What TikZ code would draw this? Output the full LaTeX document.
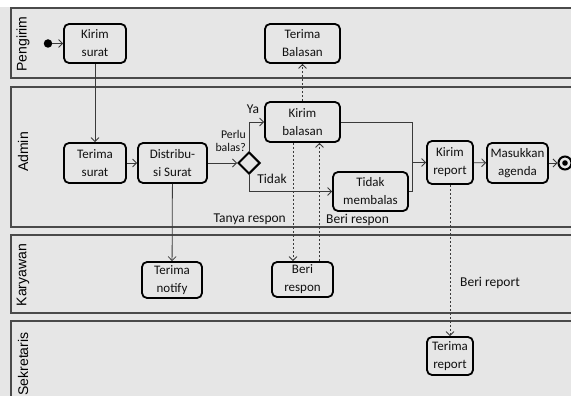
\documentclass[tikz,border=0pt]{standalone}
\usepackage{fontspec}
\setmainfont{Carlito}
\newfontfamily\lanefont{Liberation Sans}
\usetikzlibrary{arrows.meta,shapes.geometric}

\definecolor{paper}{HTML}{E6E6E6}
\definecolor{laneline}{HTML}{4A4A4A}
\definecolor{ink}{HTML}{111111}
\definecolor{flow}{HTML}{3A3A3A}

\tikzset{
  act/.style={draw=black, line width=1.8pt, rounded corners=5pt, fill=paper,
    inner sep=0pt, align=center, text=ink,
    font=\fontsize{13}{18}\selectfont},
  lane/.style={draw=laneline, line width=1.4pt},
  lanelabel/.style={rotate=90, text=black, font=\lanefont\fontsize{14}{14}\selectfont},
  flowline/.style={draw=flow, line width=0.8pt, -{Straight Barb[length=4pt,width=8pt]}},
  msgline/.style={draw=flow, line width=0.8pt, dash pattern=on 2pt off 2pt,
    -{Straight Barb[length=4pt,width=8pt]}},
  tag/.style={text=ink, inner sep=0pt, font=\fontsize{13.5}{15}\selectfont},
  smalltag/.style={text=ink, inner sep=0pt, align=right, font=\fontsize{11.8}{13}\selectfont},
}

\begin{document}
\begin{tikzpicture}[x=1pt, y=-1pt]
  \useasboundingbox (0,0) rectangle (571,396);
  \clip (0,0) rectangle (571,396);

  % page and swimlanes
  \fill[paper] (0,7) rectangle (571,396);
  \draw[lane] (11,8) rectangle (590,78);
  \draw[lane] (11,87) rectangle (590,227);
  \draw[lane] (11,235) rectangle (590,313);
  \draw[lane] (11,321) rectangle (590,420);

  \node[lanelabel] (lp) at (23,44) {Pengirim};
  \node[lanelabel] (la) at (23,152) {Admin};
  \node[lanelabel] (lk) at (23,275) {Karyawan};
  \node[lanelabel] (ls) at (23,364) {Sekretaris};

  % activities
  \node[act, minimum width=62pt, minimum height=39pt] (ks) at (95,43.5) {Kirim\\surat};
  \node[act, minimum width=75pt, minimum height=39pt] (tb) at (302.5,43.5) {Terima\\Balasan};
  \node[act, minimum width=62pt, minimum height=40pt] (ts) at (95,163) {Terima\\surat};
  \node[act, minimum width=69pt, minimum height=40pt] (ds) at (172.5,163) {Distribu-\\si Surat};
  \node[act, minimum width=75pt, minimum height=40pt] (kb) at (302.5,122) {Kirim\\balasan};
  \node[act, minimum width=75pt, minimum height=39pt] (tm) at (370.5,191.5) {Tidak\\membalas};
  \node[act, minimum width=46pt, minimum height=43pt] (kr) at (450,162.5) {Kirim\\report};
  \node[act, minimum width=61pt, minimum height=40pt] (ma) at (517.5,163) {Masukkan\\agenda};
  \node[act, minimum width=60pt, minimum height=36pt] (tn) at (172,280) {Terima\\notify};
  \node[act, minimum width=61pt, minimum height=35pt] (br) at (302.5,279.5) {Beri\\respon};
  \node[act, minimum width=46pt, minimum height=38pt] (tr) at (450,356) {Terima\\report};

  % decision, start and end
  \node[diamond, draw=black, line width=2pt, fill=paper, inner sep=0pt,
        minimum width=22pt, minimum height=22pt] (dec) at (249,163) {};
  \node[circle, fill=black, inner sep=0pt, minimum size=8.5pt] (start) at (48,43.5) {};
  \node[circle, draw=black, line width=2pt, fill=paper, inner sep=0pt,
        minimum size=13pt] (stop) at (565,163) {};
  \fill[black] (stop.center) circle (2.8pt);

  % control flow
  \draw[flowline] (start) -- (ks);
  \draw[flowline] (ks) -- (ts);
  \draw[flowline] (ts) -- (ds);
  \draw[flowline] (ds) -- (dec);
  \draw[flowline] (ds) -- (tn);
  \draw[flowline] (dec.north) |- (kb.west);
  \draw[flowline] (dec.south) |- (tm.west);
  \coordinate (merge) at (412,162.5);
  \draw[draw=flow, line width=0.8pt] (kb.east) -| (merge);
  \draw[draw=flow, line width=0.8pt] (tm.east) -| (merge);
  \draw[flowline] (merge) -- (kr.west);
  \draw[flowline] (kr) -- (ma);
  \draw[flowline] (ma) -- (stop);

  % messages between lanes
  \draw[msgline] (kb.north) -- (tb.south);
  \draw[msgline] ([xshift=-9.5pt]kb.south) -- ([xshift=-9.5pt]br.north);
  \draw[msgline] ([xshift=17pt]br.north) -- ([xshift=17pt]kb.south);
  \draw[msgline] (kr.south) -- (tr.north);

  % labels
  \node[tag] (ya) at (253,109) {Ya};
  \node[smalltag, anchor=east] (perlu) at (246,141) {Perlu\\balas?};
  \node[tag] (tidak) at (272,179) {Tidak};
  \node[tag, anchor=east] (tanya) at (286,219.5) {Tanya respon};
  \node[tag, anchor=west] (beri) at (326,219.5) {Beri respon};
  \node[tag, anchor=west] (berirep) at (460,283) {Beri report};
\end{tikzpicture}
\end{document}
